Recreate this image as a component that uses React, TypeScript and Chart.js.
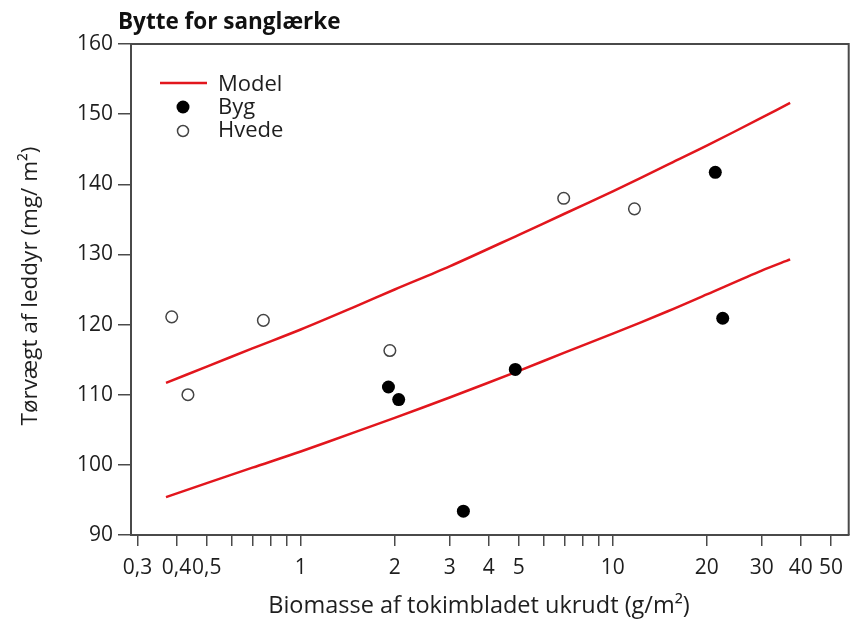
import React, { useEffect, useRef } from 'react';
import { Chart, registerables } from 'chart.js';

Chart.register(...registerables);

// ---- Data ----
const hvedeX = [0.386, 0.435, 0.759, 1.93, 6.96, 11.73];
const hvedeY = [121.1, 110.0, 120.6, 116.3, 138.0, 136.5];

const bygX = [1.91, 2.06, 3.32, 4.87, 21.3, 22.5];
const bygY = [111.1, 109.3, 93.4, 113.6, 141.7, 120.9];

const modelX = [0.37, 0.5, 0.7, 1, 1.5, 2, 3, 5, 7, 10, 15, 20, 30, 37];
const modelUpperY = [111.7, 114.0, 116.6, 119.3, 122.6, 125.0, 128.3, 132.8, 135.8, 139.0, 142.8, 145.5, 149.5, 151.6];
const modelLowerY = [95.4, 97.4, 99.6, 101.9, 104.7, 106.7, 109.6, 113.4, 116.0, 118.7, 121.9, 124.3, 127.7, 129.3];

const xTickValues = [0.3, 0.4, 0.5, 0.6, 0.7, 0.8, 0.9, 1, 2, 3, 4, 5, 6, 7, 8, 9, 10, 20, 30, 40, 50];
const xTickLabels = ['0,3', '0,4', '0,5', '', '', '', '', '1', '2', '3', '4', '5', '', '', '', '', '10', '20', '30', '40', '50'];
const yTickValues = [90, 100, 110, 120, 130, 140, 150, 160];

const titleText = 'Bytte for sanglærke';
const xTitle = 'Biomasse af tokimbladet ukrudt (g/m²)';
const yTitle = 'Tørvægt af leddyr (mg/ m²)';
const legendLabels = ['Model', 'Byg', 'Hvede'];

const FONT = '"Open Sans", Lato, sans-serif';
const RED = '#e2161d';
const AXIS = '#4a4a4a';
const TEXT = '#1e1e1e';

const overlayPlugin = {
  id: 'overlay',
  afterDraw(chart: any) {
    const ctx = chart.ctx as CanvasRenderingContext2D;
    const a = chart.chartArea;
    ctx.save();
    // top and right frame
    ctx.strokeStyle = AXIS;
    ctx.lineWidth = 2;
    ctx.beginPath();
    ctx.moveTo(a.left, a.top);
    ctx.lineTo(a.right, a.top);
    ctx.lineTo(a.right, a.bottom);
    ctx.stroke();

    // title
    ctx.fillStyle = '#111';
    ctx.font = `bold 22.5px ${FONT}`;
    ctx.textAlign = 'left';
    ctx.textBaseline = 'alphabetic';
    ctx.fillText(titleText, 118, 29);

    // axis titles
    ctx.fillStyle = TEXT;
    ctx.font = `23.5px ${FONT}`;
    ctx.textAlign = 'center';
    ctx.textBaseline = 'alphabetic';
    ctx.fillText(xTitle, 479, 613);
    ctx.save();
    ctx.translate(37, 286);
    ctx.rotate(-Math.PI / 2);
    ctx.font = `22.5px ${FONT}`;
    ctx.fillText(yTitle, 0, 0);
    ctx.restore();

    // legend
    ctx.font = `22px ${FONT}`;
    ctx.textAlign = 'left';
    ctx.textBaseline = 'alphabetic';
    ctx.strokeStyle = RED;
    ctx.lineWidth = 2.5;
    ctx.beginPath();
    ctx.moveTo(160, 83);
    ctx.lineTo(207, 83);
    ctx.stroke();
    ctx.fillStyle = TEXT;
    ctx.fillText(legendLabels[0], 218, 91);

    ctx.fillStyle = '#000';
    ctx.beginPath();
    ctx.arc(183, 107, 6.5, 0, Math.PI * 2);
    ctx.fill();
    ctx.fillStyle = TEXT;
    ctx.fillText(legendLabels[1], 218, 114);

    ctx.fillStyle = '#fff';
    ctx.strokeStyle = '#444';
    ctx.lineWidth = 1.5;
    ctx.beginPath();
    ctx.arc(183, 131, 5.5, 0, Math.PI * 2);
    ctx.fill();
    ctx.stroke();
    ctx.fillStyle = TEXT;
    ctx.fillText(legendLabels[2], 218, 137);
    ctx.restore();
  },
};

export default function App() {
  const ref = useRef<HTMLCanvasElement | null>(null);

  useEffect(() => {
    if (!ref.current) return;
    const chart = new Chart(ref.current, {
      type: 'scatter',
      data: {
        datasets: [
          {
            label: 'Byg',
            data: bygX.map((x, i) => ({ x, y: bygY[i] })),
            backgroundColor: '#000',
            borderColor: '#000',
            pointRadius: 6.5,
            pointBorderWidth: 0,
            order: 1,
          },
          {
            label: 'Hvede',
            data: hvedeX.map((x, i) => ({ x, y: hvedeY[i] })),
            backgroundColor: '#fff',
            borderColor: '#444',
            pointRadius: 5.8,
            pointBorderWidth: 1.5,
            order: 1,
          },
          {
            label: 'Model',
            data: modelX.map((x, i) => ({ x, y: modelUpperY[i] })),
            showLine: true,
            borderColor: RED,
            borderWidth: 2.5,
            pointRadius: 0,
            tension: 0.3,
            order: 2,
          },
          {
            label: 'Model',
            data: modelX.map((x, i) => ({ x, y: modelLowerY[i] })),
            showLine: true,
            borderColor: RED,
            borderWidth: 2.5,
            pointRadius: 0,
            tension: 0.3,
            order: 2,
          },
        ],
      },
      options: {
        animation: false,
        responsive: true,
        maintainAspectRatio: false,
        layout: { padding: { top: 44, right: 4, left: 0, bottom: 0 } },
        plugins: {
          legend: { display: false },
          tooltip: { enabled: false },
          title: { display: false },
        },
        scales: {
          x: {
            type: 'logarithmic',
            min: 0.2858,
            max: 57,
            afterFit: (s: any) => {
              s.height = 84;
            },
            afterBuildTicks: (s: any) => {
              s.ticks = xTickValues.map((v) => ({ value: v }));
            },
            ticks: {
              autoSkip: false,
              maxRotation: 0,
              minRotation: 0,
              padding: 9,
              color: TEXT,
              font: { family: FONT, size: 21 },
              callback: (_v: any, i: number) => xTickLabels[i],
            },
            grid: {
              display: true,
              drawOnChartArea: false,
              drawTicks: true,
              tickLength: 11,
              color: AXIS,
              lineWidth: 1.5,
            },
            border: { display: true, color: AXIS, width: 2 },
          },
          y: {
            type: 'linear',
            min: 90,
            max: 160,
            afterFit: (s: any) => {
              s.width = 131;
            },
            afterBuildTicks: (s: any) => {
              s.ticks = yTickValues.map((v) => ({ value: v }));
            },
            ticks: {
              padding: 5,
              color: TEXT,
              font: { family: FONT, size: 21 },
              callback: (v: any) => String(v),
            },
            grid: {
              display: true,
              drawOnChartArea: false,
              drawTicks: true,
              tickLength: 13,
              color: AXIS,
              lineWidth: 1.5,
            },
            border: { display: true, color: AXIS, width: 2 },
          },
        },
      },
      plugins: [overlayPlugin],
    });
    return () => chart.destroy();
  }, []);

  return (
    <div style={{ position: 'absolute', left: 0, top: 0, width: 856, height: 619, background: '#fff' }}>
      <canvas ref={ref} />
    </div>
  );
}
